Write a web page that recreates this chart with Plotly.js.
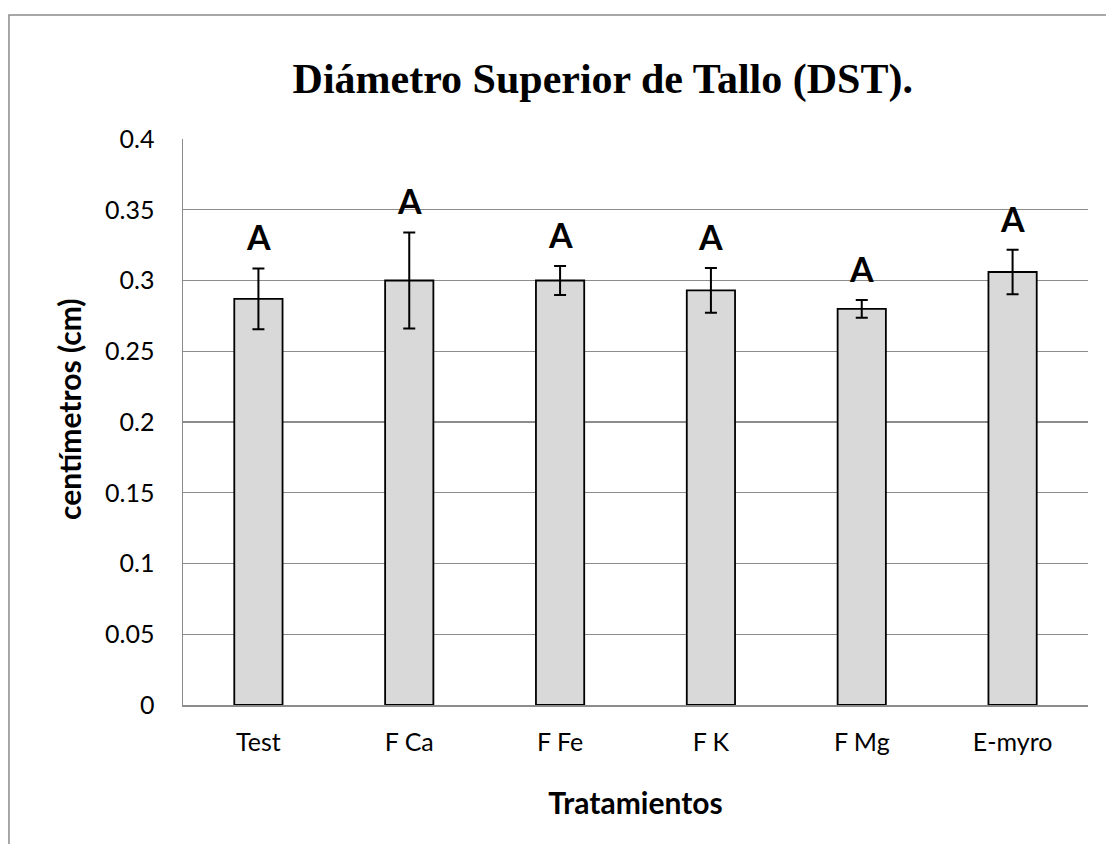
<!DOCTYPE html>
<html>
<head>
<meta charset="utf-8">
<script src="https://cdn.plot.ly/plotly-3.0.1.min.js"></script>
<style>
  html, body { margin: 0; padding: 0; background: #fff; }
  #chart { width: 1106px; height: 844px; }
</style>
</head>
<body>
<div id="chart"></div>
<script>
// Diámetro Superior de Tallo - bar chart with error bars

const tratamientos = ['Test', 'F Ca', 'F Fe', 'F K', 'F Mg', 'E-myro'];
const medias = [0.287, 0.300, 0.300, 0.293, 0.280, 0.306];
const errores = [0.0215, 0.034, 0.0103, 0.0158, 0.0063, 0.0157];
const letras = ['A', 'A', 'A', 'A', 'A', 'A'];

const fontMain = 'Lato, "Open Sans", sans-serif';

const trace = {
    x: tratamientos,
    y: medias,
    type: 'bar',
    marker: {
        color: '#d9d9d9',
        line: { color: '#000000', width: 1.8 }
    },
    error_y: {
        type: 'data',
        array: errores,
        visible: true,
        color: '#000000',
        thickness: 2,
        width: 6
    },
    hoverinfo: 'skip'
};

// letters over each error bar
const annotations = tratamientos.map((t, i) => ({
    x: t,
    y: medias[i] + errores[i],
    xref: 'x',
    yref: 'y',
    text: '<b>' + letras[i] + '</b>',
    showarrow: false,
    yanchor: 'bottom',
    yshift: 9,
    font: { family: fontMain, size: 34, color: '#000' }
}));

// y axis title as annotation so it can sit a bit above the middle like the original
annotations.push({
    xref: 'paper',
    yref: 'paper',
    x: -0.126,
    y: 0.523,
    xanchor: 'center',
    yanchor: 'middle',
    textangle: -90,
    showarrow: false,
    text: '<b>centímetros (cm)</b>',
    font: { family: fontMain, size: 30, color: '#000' }
});

const layout = {
    width: 1106,
    height: 844,
    margin: { l: 183, r: 18, t: 139, b: 139 },
    paper_bgcolor: '#ffffff',
    plot_bgcolor: '#ffffff',
    showlegend: false,
    bargap: 0.68,
    title: {
        text: '<b>Diámetro Superior de Tallo (DST).</b>',
        font: { family: '"Liberation Serif", "Times New Roman", serif', size: 42, color: '#000' },
        xref: 'container',
        yref: 'container',
        x: 0.545,
        xanchor: 'center',
        y: 0.907,
        yanchor: 'middle'
    },
    xaxis: {
        type: 'category',
        showline: true,
        linecolor: '#8c8c8c',
        linewidth: 1.5,
        showgrid: false,
        ticks: '',
        ticklabelstandoff: 14,
        tickfont: { family: fontMain, size: 25, color: '#000' },
        title: {
            text: '<b>Tratamientos</b>',
            font: { family: fontMain, size: 30, color: '#000' },
            standoff: 38
        }
    },
    yaxis: {
        range: [0, 0.4],
        dtick: 0.05,
        showline: true,
        linecolor: '#8c8c8c',
        linewidth: 1.5,
        showgrid: true,
        gridcolor: '#8c8c8c',
        gridwidth: 1.3,
        zeroline: false,
        ticks: '',
        ticklabelstandoff: 22,
        tickfont: { family: fontMain, size: 25, color: '#000' }
    },
    annotations: annotations,
    shapes: [{
        type: 'rect',
        xref: 'paper',
        yref: 'paper',
        x0: -0.1923,
        x1: 1.2,
        y0: -0.4,
        y1: 1.219,
        line: { color: '#8c8c8c', width: 1.5 },
        fillcolor: 'rgba(0,0,0,0)',
        layer: 'below'
    }]
};

Plotly.newPlot('chart', [trace], layout, { displayModeBar: false, staticPlot: true });
</script>
</body>
</html>
